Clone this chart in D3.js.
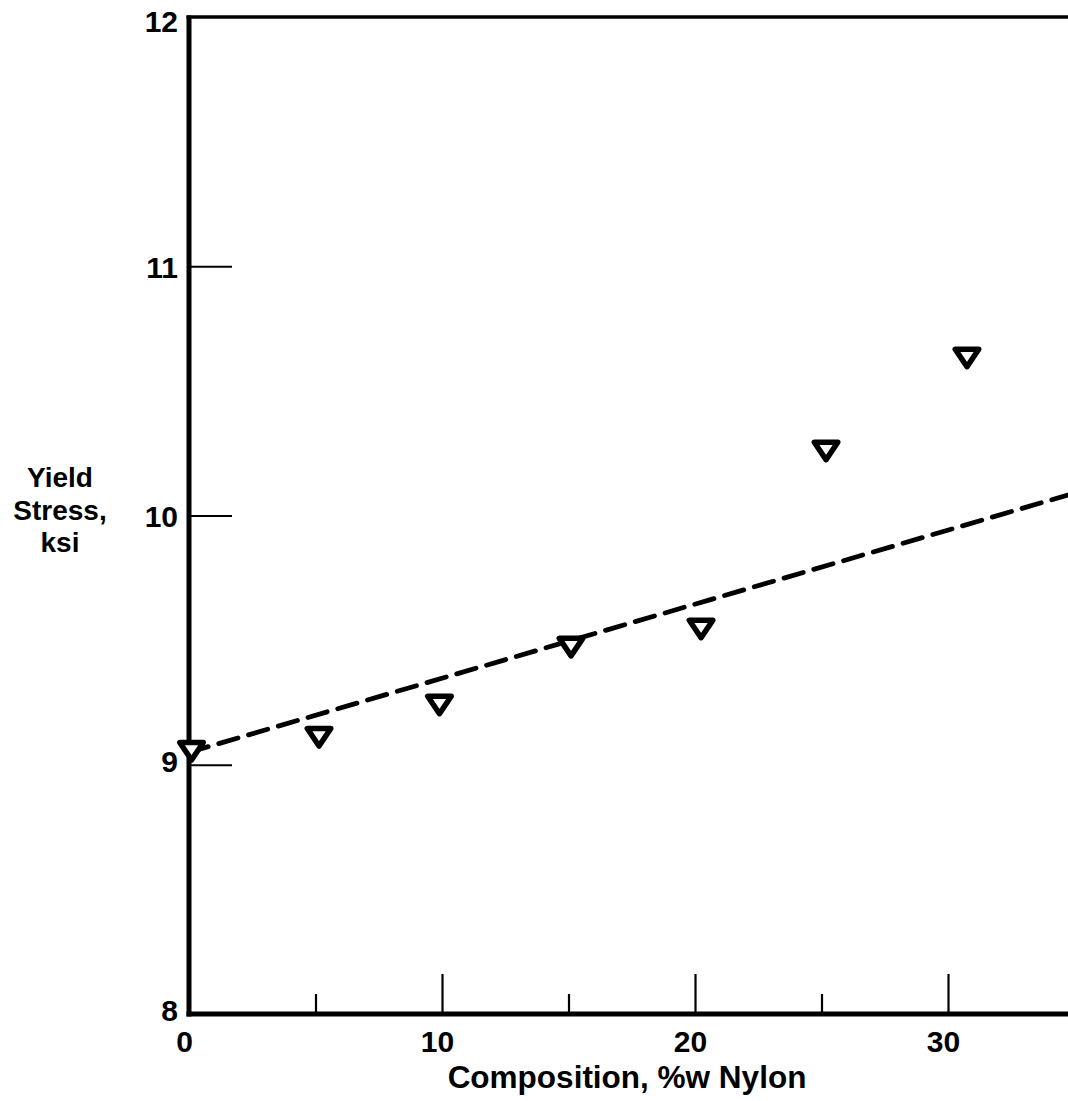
<!DOCTYPE html>
<html>
<head>
<meta charset="utf-8">
<script src="https://cdn.jsdelivr.net/npm/d3@7"></script>
<style>
  html, body { margin: 0; padding: 0; background: #fff; }
  svg { display: block; }
  text { font-family: "Liberation Sans", Arial, sans-serif; font-weight: 700; fill: #000; }
</style>
</head>
<body>
<svg id="chart" width="1068" height="1101"></svg>
<script>
// Yield stress vs. nylon content
const composition = [0.1, 5.14, 9.9, 15.1, 20.24, 25.18, 30.75];
const yieldStress = [9.054, 9.11, 9.24, 9.472, 9.545, 10.259, 10.632];
// Fitted trend (dashed)
const trendX = [0, 35];
const trendY = [9.05, 10.09];
const xMajorTicks = [0, 10, 20, 30];
const xMinorTicks = [5, 15, 25];
const yTicks = [8, 9, 10, 11, 12];
const xTitle = "Composition, %w Nylon";
const yTitle = ["Yield", "Stress,", "ksi"];

const svg = d3.select("#chart");
const x = d3.scaleLinear().domain([0, 35]).range([189, 189 + 35 * 25.3]);
const y = d3.scaleLinear().domain([8, 12]).range([1014, 17]);

// frame: left axis, bottom axis, top rule
svg.append("line").attr("x1", x(0)).attr("x2", x(0)).attr("y1", y(12) - 1.5).attr("y2", y(8) + 2.5)
  .attr("stroke", "#000").attr("stroke-width", 5);
svg.append("line").attr("x1", x(0) - 2.5).attr("x2", 1068).attr("y1", y(8)).attr("y2", y(8))
  .attr("stroke", "#000").attr("stroke-width", 5);
svg.append("line").attr("x1", x(0) - 2.5).attr("x2", 1068).attr("y1", y(12)).attr("y2", y(12))
  .attr("stroke", "#000").attr("stroke-width", 3.5);

// x axis ticks (pointing up into the plot)
const xMajor = d3.axisBottom(x).tickValues(xMajorTicks).tickSize(-40).tickPadding(0).tickFormat(d3.format("d"));
const gx = svg.append("g").attr("transform", `translate(0,${y(8)})`).call(xMajor);
gx.select(".domain").remove();
gx.selectAll(".tick line").attr("stroke", "#000").attr("stroke-width", 2.2)
  .filter(d => d === 0).remove();
gx.selectAll(".tick text").attr("font-size", 30).attr("y", 0).attr("dy", "1.25em")
  .attr("dx", -5).attr("font-family", null);

const xMinor = d3.axisBottom(x).tickValues(xMinorTicks).tickSize(-20).tickFormat("");
const gxm = svg.append("g").attr("transform", `translate(0,${y(8)})`).call(xMinor);
gxm.select(".domain").remove();
gxm.selectAll(".tick line").attr("stroke", "#000").attr("stroke-width", 2.2);

// y axis ticks (pointing right into the plot)
const yAxis = d3.axisLeft(y).tickValues(yTicks).tickSize(-43).tickPadding(0).tickFormat(d3.format("d"));
const gy = svg.append("g").attr("transform", `translate(${x(0)},0)`).call(yAxis);
gy.select(".domain").remove();
gy.selectAll(".tick line").attr("stroke", "#000").attr("stroke-width", 2.2)
  .filter(d => d === 8 || d === 12).remove();
gy.selectAll(".tick text").attr("font-size", 30).attr("x", -11).attr("dy", "0.36em")
  .attr("font-family", null)
  .attr("transform", d => d === 12 ? "translate(0,4)" : (d === 8 || d === 9) ? "translate(0,-4)" : null);

// dashed trend line
svg.append("path")
  .datum(trendX.map((d, i) => [d, trendY[i]]))
  .attr("d", d3.line().x(d => x(d[0])).y(d => y(d[1])))
  .attr("fill", "none").attr("stroke", "#000").attr("stroke-width", 4.8)
  .attr("stroke-dasharray", "20,11").attr("stroke-linecap", "round");

// open down-pointing triangles
const tw = 23.5, th = 17.5;
const tri = `M${-tw / 2},${-th / 2}L${tw / 2},${-th / 2}L0,${th / 2}Z`;
svg.append("g").selectAll("path")
  .data(composition.map((d, i) => [d, yieldStress[i]]))
  .join("path")
  .attr("d", tri)
  .attr("transform", d => `translate(${x(d[0])},${y(d[1])})`)
  .attr("fill", "#fff").attr("stroke", "#000").attr("stroke-width", 5.5)
  .attr("stroke-linejoin", "round");

// axis titles
svg.append("text").attr("x", 627).attr("y", 1088).attr("text-anchor", "middle")
  .attr("font-size", 31.5).text(xTitle);
svg.append("g").selectAll("text").data(yTitle).join("text")
  .attr("x", 60).attr("y", (d, i) => 487 + i * 32.5).attr("text-anchor", "middle")
  .attr("font-size", 28).text(d => d);
</script>
</body>
</html>
